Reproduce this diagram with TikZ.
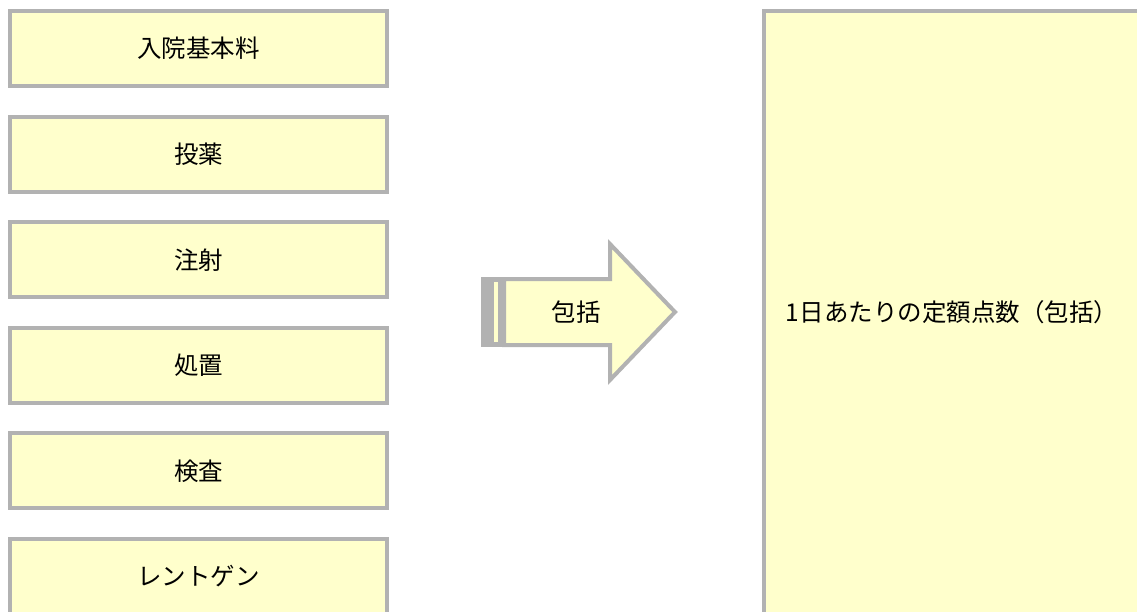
\documentclass[tikz,border=0pt]{standalone}
\usepackage{fontspec}
\setmainfont{Noto Sans CJK JP}
\definecolor{boxfill}{HTML}{FFFFCC}
\definecolor{boxline}{HTML}{B2B2B2}
\begin{document}
\begin{tikzpicture}[x=1pt,y=-1pt,
  label text/.style={font=\fontsize{24.5}{24.5}\selectfont},
  itembox/.style={draw=boxline,fill=boxfill,line width=4pt,minimum width=377pt,minimum height=75pt,inner sep=0pt,label text},
  bigbox/.style={draw=boxline,fill=boxfill,line width=4pt,minimum width=386pt,minimum height=620pt,inner sep=0pt},
  arrowshape/.style={draw=boxline,fill=boxfill,line width=4pt,line join=miter}]
\useasboundingbox (0,0) rectangle (1137,612);
\clip (0,0) rectangle (1137,612);
\node[itembox] (b1) at (198.5,48.5) {入院基本料};
\node[itembox] (b2) at (198.5,154.1) {投薬};
\node[itembox] (b3) at (198.5,259.7) {注射};
\node[itembox] (b4) at (198.5,365.3) {処置};
\node[itembox] (b5) at (198.5,470.9) {検査};
\node[itembox] (b6) at (198.5,576.5) {レントゲン};
\node[bigbox] (total) at (957,321) {};
\node[label text] (totaltext) at (952,312) {1日あたりの定額点数（包括）};
% striped arrow
\fill[boxline] (481,277) rectangle (506,347);
\fill[boxfill] (493.5,281.5) rectangle (497.5,342);
\draw[arrowshape] (504,279) -- (610,279) -- (610,244) -- (675,312) -- (610,380) -- (610,345) -- (504,345) -- cycle;
\node[label text] (arrowlabel) at (576,312) {包括};
\end{tikzpicture}
\end{document}
